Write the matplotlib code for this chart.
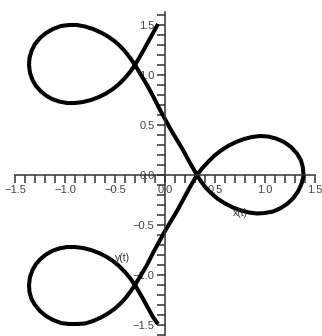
import matplotlib
matplotlib.use("Agg")
import matplotlib.pyplot as plt
from matplotlib.ticker import MultipleLocator, FixedLocator

# points, in drawing order
xs = [-0.07, -0.12, -0.17, -0.23, -0.30,
      -0.35, -0.40, -0.46, -0.52, -0.59, -0.66, -0.74, -0.82, -0.90, -0.98,
      -1.06, -1.13, -1.19, -1.245, -1.29, -1.325, -1.35, -1.36, -1.355, -1.335,
      -1.30, -1.25, -1.19, -1.12, -1.04, -0.96, -0.88, -0.80, -0.72, -0.64,
      -0.57, -0.50, -0.44, -0.39, -0.345, -0.30,
      -0.24, -0.18, -0.12, -0.06, 0.00, 0.06, 0.12, 0.18, 0.25, 0.32,
      0.36, 0.41, 0.47, 0.53, 0.60, 0.68, 0.76, 0.84, 0.92, 1.00,
      1.08, 1.15, 1.22, 1.28, 1.33, 1.365, 1.385, 1.38, 1.36, 1.32,
      1.26, 1.19, 1.11, 1.03, 0.95, 0.87, 0.79, 0.71, 0.63, 0.56,
      0.49, 0.43, 0.37, 0.32,
      0.25, 0.18, 0.12, 0.06, 0.00, -0.06, -0.12, -0.18, -0.24, -0.30,
      -0.345, -0.39, -0.44, -0.50, -0.57, -0.64, -0.72, -0.80, -0.88, -0.96,
      -1.04, -1.12, -1.19, -1.25, -1.30, -1.335, -1.355, -1.36, -1.35, -1.325,
      -1.29, -1.245, -1.19, -1.13, -1.06, -0.98, -0.90, -0.82, -0.74, -0.66,
      -0.59, -0.52, -0.46, -0.40, -0.35, -0.30,
      -0.23, -0.17, -0.12, -0.07]
ys = [1.51, 1.42, 1.33, 1.22, 1.10,
      1.03, 0.97, 0.91, 0.86, 0.815, 0.78, 0.75, 0.73, 0.72, 0.72,
      0.735, 0.76, 0.795, 0.84, 0.89, 0.95, 1.02, 1.10, 1.17, 1.24,
      1.31, 1.37, 1.42, 1.46, 1.49, 1.50, 1.50, 1.485, 1.46, 1.425,
      1.385, 1.335, 1.28, 1.225, 1.165, 1.10,
      1.00, 0.90, 0.79, 0.67, 0.56, 0.45, 0.35, 0.25, 0.12, 0.00,
      -0.065, -0.13, -0.19, -0.24, -0.285, -0.325, -0.355, -0.375, -0.385, -0.38,
      -0.365, -0.335, -0.29, -0.235, -0.165, -0.09, -0.01, 0.07, 0.145, 0.215,
      0.28, 0.33, 0.365, 0.385, 0.39, 0.38, 0.36, 0.33, 0.29, 0.245,
      0.19, 0.13, 0.065, 0.00,
      -0.12, -0.25, -0.36, -0.46, -0.56, -0.67, -0.78, -0.90, -1.00, -1.10,
      -1.165, -1.225, -1.28, -1.335, -1.385, -1.425, -1.46, -1.485, -1.49, -1.49,
      -1.48, -1.45, -1.41, -1.36, -1.30, -1.24, -1.17, -1.10, -1.02, -0.95,
      -0.89, -0.84, -0.795, -0.76, -0.735, -0.72, -0.72, -0.73, -0.75, -0.78,
      -0.815, -0.86, -0.91, -0.97, -1.03, -1.10,
      -1.22, -1.33, -1.42, -1.49]

xticks = [-1.5, -1.0, -0.5, 0.0, 0.5, 1.0, 1.5]
yticks = [-1.5, -1.0, -0.5, 0.0, 0.5, 1.0, 1.5]
ticklabels = ['\u22121.5', '\u22121.0', '\u22120.5', '0.0', '0.5', '1.0', '1.5']

plt.rcParams['font.family'] = ['Liberation Sans', 'DejaVu Sans']

fig = plt.figure(figsize=(3.22, 3.36), dpi=100)
ax = fig.add_axes([15/322, 0.0, 300/322, 324/336])
ax.plot(xs, ys, color='black', lw=2.9, solid_capstyle='butt', solid_joinstyle='round')

ax.set_xlim(-1.5, 1.5)
ax.set_ylim(-1.61, 1.63)
for s in ['top', 'right']:
    ax.spines[s].set_visible(False)
ax.spines['left'].set_position(('data', 0))
ax.spines['bottom'].set_position(('data', 0))
for s in ['left', 'bottom']:
    ax.spines[s].set_color('#333333')
    ax.spines[s].set_linewidth(1.1)

ax.xaxis.set_major_locator(FixedLocator(xticks))
ax.yaxis.set_major_locator(FixedLocator(yticks))
ax.xaxis.set_minor_locator(MultipleLocator(0.1))
ax.yaxis.set_minor_locator(MultipleLocator(0.1))
ax.set_xticklabels(ticklabels)
ax.set_yticklabels(ticklabels)
ax.tick_params(which='both', direction='out', length=5.5, width=1.1, color='#333333')
ax.tick_params(which='major', labelsize=8, labelcolor='#444444', pad=2)

ax.text(0.75, -0.38, 'x(t)', fontsize=7.5, color='#333333', ha='center', va='center')
ax.text(-0.42, -0.83, 'y(t)', fontsize=7.5, color='#333333', ha='center', va='center')

fig.savefig('out.png', dpi=100)
